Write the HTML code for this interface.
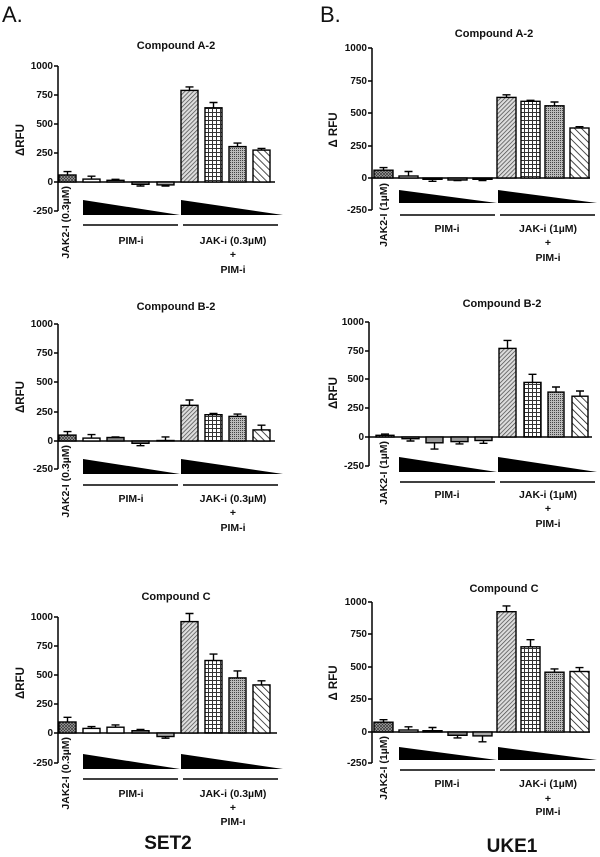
<!DOCTYPE html>
<html><head><meta charset="utf-8"><style>
html,body{margin:0;padding:0;background:#fff}
svg{display:block}
text{font-family:"Liberation Sans",Arial,sans-serif;font-weight:bold;fill:#111}
</style></head><body>
<svg width="600" height="857" viewBox="0 0 600 857" xmlns="http://www.w3.org/2000/svg">
<defs>
<pattern id="p1" width="3" height="3" patternUnits="userSpaceOnUse"><rect width="3" height="3" fill="#aaa"/><path d="M0,0L3,3M0,3L3,0" stroke="#333" stroke-width="0.7"/></pattern>
<pattern id="p2" width="3" height="3" patternUnits="userSpaceOnUse" patternTransform="rotate(45)"><rect width="3" height="3" fill="#ddd"/><line x1="0" y1="0" x2="0" y2="3" stroke="#444" stroke-width="1.4"/></pattern>
<pattern id="p3" width="4" height="4" patternUnits="userSpaceOnUse"><rect width="4" height="4" fill="#fff"/><path d="M0,0.5H4M0.5,0V4" stroke="#333" stroke-width="1"/></pattern>
<pattern id="p4" width="2" height="2" patternUnits="userSpaceOnUse"><rect width="2" height="2" fill="#bbb"/><rect width="1" height="1" fill="#444"/></pattern>
<pattern id="p5" width="5" height="5" patternUnits="userSpaceOnUse" patternTransform="rotate(-45)"><rect width="5" height="5" fill="#fff"/><line x1="0" y1="0" x2="0" y2="5" stroke="#111" stroke-width="1.5"/></pattern>
</defs>

<text x="2" y="22" style="font-size:22px;font-weight:normal">A.</text>
<text x="320" y="22" style="font-size:22px;font-weight:normal">B.</text>

<g stroke="#000" fill="none" stroke-width="1.5">
<path d="M58,66V211M54,66H58M54,95H58M54,124H58M54,153H58M54,182H58M54,211H58M58,182H275"/>
<path d="M58,324V469M54,324H58M54,353H58M54,382H58M54,412H58M54,441H58M54,469H58M58,441H275"/>
<path d="M58,617V763M54,617H58M54,646H58M54,675H58M54,704H58M54,733H58M54,763H58M58,733H277"/>
<path d="M372,48V210M368,48H372M368,81H372M368,113H372M368,146H372M368,178H372M368,210H372M372,178H590"/>
<path d="M369,322V466M365,322H369M365,351H369M365,379H369M365,408H369M365,437H369M365,466H369M369,437H592"/>
<path d="M372,602V763M368,602H372M368,634H372M368,667H372M368,699H372M368,732H372M368,763H372M372,732H590"/>
<path d="M83,225H178M183,225H278M83,485H178M183,485H278M83,779H178M183,779H278"/>
<path d="M400,215H495M500,215H595M400,482H495M500,482H595M400,770H495M500,770H595"/>
</g>

<g fill="#000">
<polygon points="83,200 180,215 83,215"/><polygon points="181,200 283,215 181,215"/>
<polygon points="83,459 180,474 83,474"/><polygon points="181,459 283,474 181,474"/>
<polygon points="83,754 180,769 83,769"/><polygon points="181,754 283,769 181,769"/>
<polygon points="399,190 497,203 399,203"/><polygon points="498,190 597,203 498,203"/>
<polygon points="399,457 497,472 399,472"/><polygon points="498,457 597,472 498,472"/>
<polygon points="399,747 497,760 399,760"/><polygon points="498,747 597,760 498,760"/>
</g>

<g stroke="#000" stroke-width="1.4">
<rect x="59" y="175" width="17" height="7" fill="url(#p1)"/>
<rect x="83" y="179.1" width="17" height="2.9" fill="#fff"/>
<rect x="107" y="180.3" width="17" height="1.7" fill="#888"/>
<rect x="132" y="182" width="17" height="2.3" fill="#888"/>
<rect x="157" y="182" width="17" height="2.9" fill="#aaa"/>
<rect x="181" y="90.4" width="17" height="91.6" fill="url(#p2)"/>
<rect x="205" y="107.8" width="17" height="74.2" fill="url(#p3)"/>
<rect x="229" y="146.6" width="17" height="35.4" fill="url(#p4)"/>
<rect x="253" y="150.1" width="17" height="31.9" fill="url(#p5)"/>
<path fill="none" d="M67.5,175V171.6M63.5,171.6H71.5M91.5,179V176.2M87.5,176.2H95.5M115.5,180V179.3M111.5,179.3H119.5M140.5,184V186M136.5,186H144.5M165.5,185V186M161.5,186H169.5M189.5,90V86.9M185.5,86.9H193.5M213.5,108V102.5M209.5,102.5H217.5M237.5,146V143.1M233.5,143.1H241.5M261.5,150V148.4M257.5,148.4H265.5"/>
<rect x="59" y="435.1" width="17" height="5.9" fill="url(#p1)"/>
<rect x="83" y="438.1" width="17" height="2.9" fill="#fff"/>
<rect x="107" y="437.5" width="17" height="3.5" fill="#888"/>
<rect x="132" y="441" width="17" height="2.3" fill="#888"/>
<rect x="157" y="440.5" width="17" height="0.5" fill="#aaa"/>
<rect x="181" y="405.3" width="17" height="35.7" fill="url(#p2)"/>
<rect x="205" y="414.7" width="17" height="26.3" fill="url(#p3)"/>
<rect x="229" y="416.4" width="17" height="24.6" fill="url(#p4)"/>
<rect x="253" y="429.9" width="17" height="11.1" fill="url(#p5)"/>
<path fill="none" d="M67.5,435V431.6M63.5,431.6H71.5M91.5,438V434.6M87.5,434.6H95.5M115.5,437V436.9M111.5,436.9H119.5M140.5,443V445.7M136.5,445.7H144.5M165.5,440V436.9M161.5,436.9H169.5M189.5,405V400M185.5,400H193.5M213.5,414.7V413.5M209.5,413.5H217.5M237.5,416V414.1M233.5,414.1H241.5M261.5,430V425.2M257.5,425.2H265.5"/>
<rect x="59" y="722" width="17" height="11" fill="url(#p1)"/>
<rect x="83" y="728.4" width="17" height="4.6" fill="#fff"/>
<rect x="107" y="727.2" width="17" height="5.8" fill="#fff"/>
<rect x="132" y="730.7" width="17" height="2.3" fill="#888"/>
<rect x="157" y="733" width="17" height="3.5" fill="#aaa"/>
<rect x="181" y="621.6" width="17" height="111.4" fill="url(#p2)"/>
<rect x="205" y="660.5" width="17" height="72.5" fill="url(#p3)"/>
<rect x="229" y="677.9" width="17" height="55.1" fill="url(#p4)"/>
<rect x="253" y="684.9" width="17" height="48.1" fill="url(#p5)"/>
<path fill="none" d="M67.5,722V717.3M63.5,717.3H71.5M91.5,728V726.6M87.5,726.6H95.5M115.5,727V724.9M111.5,724.9H119.5M140.5,730.7V729.5M136.5,729.5H144.5M165.5,736.5V738.2M161.5,738.2H169.5M189.5,621V613.5M185.5,613.5H193.5M213.5,660V654.1M209.5,654.1H217.5M237.5,678V670.9M233.5,670.9H241.5M261.5,685V680.8M257.5,680.8H265.5"/>
<rect x="374" y="170.2" width="19" height="7.8" fill="url(#p1)"/>
<rect x="399" y="176" width="19" height="2" fill="#fff"/>
<rect x="423" y="178" width="19" height="1.3" fill="#888"/>
<rect x="448" y="178" width="19" height="2" fill="#888"/>
<rect x="473" y="178" width="19" height="1.3" fill="#aaa"/>
<rect x="497" y="97.4" width="19" height="80.6" fill="url(#p2)"/>
<rect x="521" y="101.3" width="19" height="76.7" fill="url(#p3)"/>
<rect x="545" y="105.8" width="19" height="72.2" fill="url(#p4)"/>
<rect x="570" y="128" width="19" height="50" fill="url(#p5)"/>
<path fill="none" d="M383.5,170V167.6M379.5,167.6H387.5M408.5,176V171.5M404.5,171.5H412.5M432.5,179V181.3M428.5,181.3H436.5M457.5,180V180.6M453.5,180.6H461.5M482.5,179V180.6M478.5,180.6H486.5M506.5,97V94.8M502.5,94.8H510.5M530.5,101V100.3M526.5,100.3H534.5M554.5,106V102M550.5,102H558.5M579.5,128V126.7M575.5,126.7H583.5"/>
<rect x="376" y="435.3" width="18" height="1.7" fill="url(#p1)"/>
<rect x="402" y="437" width="17" height="1.7" fill="#888"/>
<rect x="426" y="437" width="17" height="5.8" fill="#999"/>
<rect x="451" y="437" width="17" height="4.6" fill="#999"/>
<rect x="475" y="437" width="17" height="3.5" fill="#aaa"/>
<rect x="499" y="348.4" width="17" height="88.6" fill="url(#p2)"/>
<rect x="524" y="382.4" width="17" height="54.6" fill="url(#p3)"/>
<rect x="548" y="392.1" width="16" height="44.9" fill="url(#p4)"/>
<rect x="572" y="396.2" width="16" height="40.8" fill="url(#p5)"/>
<path fill="none" d="M385,435V434.1M381,434.1H389M410.5,439V441M406.5,441H414.5M434.5,443V449.1M430.5,449.1H438.5M459.5,442V443.9M455.5,443.9H463.5M483.5,440V443.3M479.5,443.3H487.5M507.5,348V340.4M503.5,340.4H511.5M532.5,382V374.3M528.5,374.3H536.5M556,392V387M552,387H560M580,396V391M576,391H584"/>
<rect x="374" y="722.2" width="19" height="9.8" fill="url(#p1)"/>
<rect x="399" y="730" width="19" height="2" fill="#fff"/>
<rect x="423" y="730.7" width="19" height="1.3" fill="#888"/>
<rect x="448" y="732" width="19" height="3.3" fill="#888"/>
<rect x="473" y="732" width="19" height="3.9" fill="#aaa"/>
<rect x="497" y="611.7" width="19" height="120.3" fill="url(#p2)"/>
<rect x="521" y="646.8" width="19" height="85.2" fill="url(#p3)"/>
<rect x="545" y="672.2" width="19" height="59.8" fill="url(#p4)"/>
<rect x="570" y="671.5" width="19" height="60.5" fill="url(#p5)"/>
<path fill="none" d="M383.5,722V719.7M379.5,719.7H387.5M408.5,730V726.8M404.5,726.8H412.5M432.5,730.7V727.5M428.5,727.5H436.5M457.5,735V737.9M453.5,737.9H461.5M482.5,736V741.8M478.5,741.8H486.5M506.5,612V605.9M502.5,605.9H510.5M530.5,647V639.7M526.5,639.7H534.5M554.5,672V668.9M550.5,668.9H558.5M579.5,671.5V667.6M575.5,667.6H583.5"/>
</g>

<g style="font-size:10px" text-anchor="end">
<text x="53" y="69">1000</text><text x="53" y="98">750</text><text x="53" y="127">500</text><text x="53" y="156">250</text><text x="53" y="185">0</text><text x="53" y="214">-250</text>
<text x="53" y="327">1000</text><text x="53" y="356">750</text><text x="53" y="385">500</text><text x="53" y="415">250</text><text x="53" y="444">0</text><text x="53" y="472">-250</text>
<text x="53" y="620">1000</text><text x="53" y="649">750</text><text x="53" y="678">500</text><text x="53" y="707">250</text><text x="53" y="736">0</text><text x="53" y="766">-250</text>
<text x="367" y="51">1000</text><text x="367" y="84">750</text><text x="367" y="116">500</text><text x="367" y="149">250</text><text x="367" y="181">0</text><text x="367" y="213">-250</text>
<text x="364" y="325">1000</text><text x="364" y="354">750</text><text x="364" y="382">500</text><text x="364" y="411">250</text><text x="364" y="440">0</text><text x="364" y="469">-250</text>
<text x="367" y="605">1000</text><text x="367" y="637">750</text><text x="367" y="670">500</text><text x="367" y="702">250</text><text x="367" y="735">0</text><text x="367" y="766">-250</text>
</g>

<g style="font-size:11px" text-anchor="middle">
<text x="176" y="49">Compound A-2</text>
<text x="494" y="37">Compound A-2</text>
<text x="176" y="310">Compound B-2</text>
<text x="502" y="307">Compound B-2</text>
<text x="176" y="600">Compound C</text>
<text x="504" y="592">Compound C</text>
</g>

<g style="font-size:11.5px" text-anchor="middle">
<text transform="translate(24,140) rotate(-90)">ΔRFU</text>
<text transform="translate(24,397) rotate(-90)">ΔRFU</text>
<text transform="translate(24,683) rotate(-90)">ΔRFU</text>
<text transform="translate(337,130) rotate(-90)">Δ RFU</text>
<text transform="translate(337,393) rotate(-90)">ΔRFU</text>
<text transform="translate(337,683) rotate(-90)">Δ RFU</text>
</g>

<g style="font-size:10.5px" text-anchor="end">
<text transform="translate(69,186) rotate(-90)">JAK2-I (0.3µM)</text>
<text transform="translate(69,445) rotate(-90)">JAK2-I (0.3µM)</text>
<text transform="translate(69,737) rotate(-90)">JAK2-I (0.3µM)</text>
<text transform="translate(387,183) rotate(-90)">JAK2-I (1µM)</text>
<text transform="translate(387,441) rotate(-90)">JAK2-I (1µM)</text>
<text transform="translate(387,736) rotate(-90)">JAK2-I (1µM)</text>
</g>

<g style="font-size:10.5px" text-anchor="middle">
<text x="131" y="244">PIM-i</text><text x="233" y="244">JAK-i (0.3µM)</text><text x="233" y="258">+</text><text x="233" y="273">PIM-i</text>
<text x="131" y="502">PIM-i</text><text x="233" y="502">JAK-i (0.3µM)</text><text x="233" y="516">+</text><text x="233" y="531">PIM-i</text>
<text x="131" y="797">PIM-i</text><text x="233" y="797">JAK-i (0.3µM)</text><text x="233" y="811">+</text><text x="233" y="825">PIM-ı</text>
<text x="447" y="232">PIM-i</text><text x="548" y="232">JAK-i (1µM)</text><text x="548" y="246">+</text><text x="548" y="261">PIM-i</text>
<text x="447" y="498">PIM-i</text><text x="548" y="498">JAK-i (1µM)</text><text x="548" y="512">+</text><text x="548" y="527">PIM-i</text>
<text x="447" y="787">PIM-i</text><text x="548" y="787">JAK-i (1µM)</text><text x="548" y="802">+</text><text x="548" y="815">PIM-i</text>
</g>

<text x="168" y="849" text-anchor="middle" style="font-size:19px">SET2</text>
<text x="512" y="852" text-anchor="middle" style="font-size:19px">UKE1</text>
</svg>
</body></html>
